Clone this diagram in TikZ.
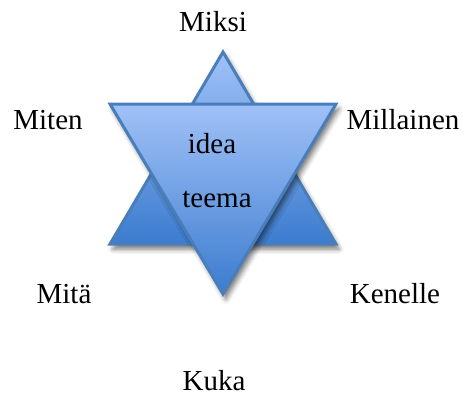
\documentclass[tikz,border=0pt]{standalone}
\usepackage{fontspec}
\setmainfont{Liberation Serif}
\usetikzlibrary{shadows.blur}

\definecolor{starlight}{RGB}{160,193,247}
\definecolor{stardark}{RGB}{60,124,207}
\definecolor{starline}{RGB}{74,126,187}

\begin{document}
\begin{tikzpicture}[
        x=1pt, y=-1pt,
        word/.style={font=\fontsize{29}{34}\selectfont, anchor=base, inner sep=0pt},
        tri/.style={draw=starline, line width=3pt, line join=miter,
            top color=starlight, bottom color=stardark,
            blur shadow={shadow xshift=3pt, shadow yshift=-5pt,
                shadow blur radius=5pt, shadow opacity=55}},
    ]
    \useasboundingbox (0,0) rectangle (466,396);

    % ---- upward triangle (behind) ----
    \path[tri] (223,52) -- (336,244) -- (110,244) -- cycle;

    % ---- downward triangle (front) ----
    \path[tri] (110,104) -- (336,104) -- (223,294) -- cycle;

    % ---- words inside ----
    \node[word] (idea) at (212,153) {idea};
    \node[word] (teema) at (217,207) {teema};

    % ---- questions around ----
    \node[word] (miksi) at (213,32) {Miksi};
    \node[word] (miten) at (48,129) {Miten};
    \node[word] (millainen) at (403,129) {Millainen};
    \node[word] (mita) at (64,303) {Mitä};
    \node[word] (kenelle) at (395,303) {Kenelle};
    \node[word] (kuka) at (214,390) {Kuka};

\end{tikzpicture}
\end{document}
